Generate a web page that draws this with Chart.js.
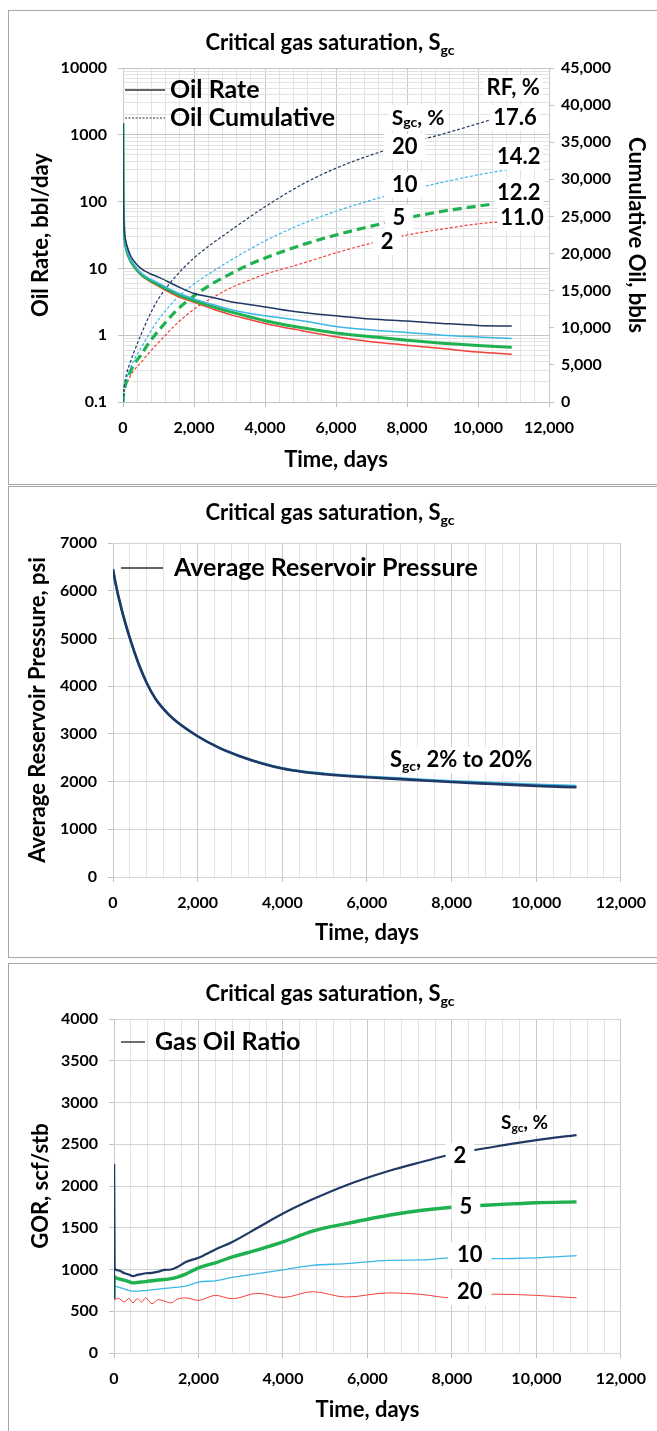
<!DOCTYPE html>
<html>
<head>
<meta charset="utf-8">
<script src="https://cdn.jsdelivr.net/npm/chart.js@4.4.1/dist/chart.umd.min.js"></script>
<style>
  html, body { margin: 0; padding: 0; background: #fff; overflow: hidden; }
  body { width: 657px; height: 1431px; position: relative; }
  .panel { position: absolute; left: 8px; width: 700px; border: 1px solid #a6a6a6; background: #fff; }
  .panel canvas { position: absolute; left: 0; top: 0; }
  .title { position: absolute; left: 0; width: 642px; text-align: center; font: bold 22px Lato, sans-serif; line-height: 26px; color: #000; z-index: 2; }
  .title sub { font-size: 14px; vertical-align: -5px; line-height: 0; }
</style>
</head>
<body>

<div class="panel" style="top:10px;height:473px">
  <div class="title" style="top:18px">Critical gas saturation, S<sub>gc</sub></div>
  <canvas id="rateChart" width="648" height="473"></canvas>
</div>

<div class="panel" style="top:486px;height:470px">
  <div class="title" style="top:12px">Critical gas saturation, S<sub>gc</sub></div>
  <canvas id="pressureChart" width="648" height="470"></canvas>
</div>

<div class="panel" style="top:963px;height:480px">
  <div class="title" style="top:16px">Critical gas saturation, S<sub>gc</sub></div>
  <canvas id="gorChart" width="648" height="467"></canvas>
</div>

<script>
// ---------- data ----------
const dayTicks = [0, 2000, 4000, 6000, 8000, 10000, 12000];
const rateTicks = [0.1, 1, 10, 100, 1000, 10000];

// top chart: oil rate (bbl/day) and cumulative oil (bbl)
const rateDays = [0, 10, 30, 60, 100, 200, 300, 500, 750, 1000, 1500, 2000, 2500, 3000, 3500, 4000, 5000, 6000, 7000, 8000, 9000, 10000, 10950];
const rateSgc20 = [1500, 120, 42, 29, 23, 16, 13, 10, 8.4, 7.4, 5.5, 4.2, 3.7, 3.2, 2.9, 2.65, 2.2, 1.95, 1.75, 1.63, 1.5, 1.4, 1.37];
const rateSgc10 = [1500, 110, 38, 26, 20, 14, 11.5, 8.6, 7.0, 6.0, 4.4, 3.5, 2.9, 2.45, 2.15, 1.95, 1.66, 1.35, 1.2, 1.1, 1.0, 0.94, 0.89];
const rateSgc5 = [1500, 105, 36, 25, 19, 13.5, 11, 8.3, 6.7, 5.7, 4.2, 3.3, 2.7, 2.25, 1.92, 1.65, 1.3, 1.08, 0.95, 0.84, 0.76, 0.7, 0.66];
const rateSgc2 = [1500, 100, 35, 24, 18.5, 13, 10.7, 8.0, 6.4, 5.4, 3.9, 3.1, 2.5, 2.05, 1.75, 1.5, 1.18, 0.95, 0.8, 0.71, 0.63, 0.56, 0.52];

const cumSgc20 = [0, 900, 1900, 2900, 3800, 5300, 6600, 9000, 11700, 13900, 17000, 19400, 21300, 23000, 24700, 26300, 29200, 31500, 33300, 34800, 36100, 37500, 38900];
const cumSgc10 = [0, 800, 1600, 2400, 3100, 4500, 5600, 7200, 9300, 11100, 13900, 15900, 17500, 19000, 20400, 21700, 23900, 25700, 27200, 28500, 29600, 30600, 31400];
const cumSgc5 = [0, 700, 1400, 2100, 2800, 4000, 5000, 6300, 8100, 9600, 12300, 14300, 15900, 17200, 18400, 19400, 21100, 22500, 23700, 24800, 25700, 26400, 27000];
const cumSgc2 = [0, 600, 1200, 1800, 2400, 3400, 4200, 5300, 6700, 8000, 10500, 12500, 14000, 15300, 16300, 17200, 18600, 20100, 21400, 22500, 23300, 24000, 24400];

const rfLabels = ['17.6', '14.2', '12.2', '11.0'];
const sgcCumLabels = ['20', '10', '5', '2'];

// middle chart: average reservoir pressure (psi)
const pressureDays = [0, 50, 200, 400, 600, 800, 1000, 1300, 1600, 2000, 2500, 3000, 3500, 4000, 4500, 5000, 6000, 7000, 8000, 9000, 10000, 10950];
const pressureSgc2 = [6450, 6200, 5620, 5000, 4480, 4060, 3740, 3420, 3190, 2950, 2710, 2530, 2385, 2272, 2200, 2155, 2090, 2040, 1990, 1950, 1910, 1880];
const pressureSgc10 = [6450, 6200, 5620, 5000, 4480, 4060, 3740, 3420, 3190, 2950, 2710, 2530, 2390, 2280, 2210, 2167, 2104, 2056, 2010, 1972, 1936, 1910];

// bottom chart: gas oil ratio (scf/stb)
const gorDays = [0, 3, 15, 100, 250, 350, 450, 550, 650, 750, 900, 1050, 1200, 1350, 1500, 1700, 2000, 2400, 2800, 3400, 4000, 4700, 5500, 6500, 7300, 8000, 9000, 10000, 10950];
const gorSgc2 = [650, 2250, 1010, 990, 955, 940, 920, 935, 945, 955, 960, 975, 995, 1000, 1030, 1090, 1140, 1240, 1330, 1500, 1670, 1840, 2010, 2180, 2290, 2380, 2470, 2550, 2610];
const gorSgc5 = [650, 920, 910, 890, 870, 855, 840, 845, 850, 855, 865, 875, 880, 890, 910, 945, 1020, 1080, 1150, 1235, 1330, 1460, 1550, 1650, 1710, 1745, 1775, 1800, 1810];
const gorSgc10 = [650, 830, 810, 790, 765, 750, 740, 742, 745, 748, 755, 765, 775, 780, 790, 800, 850, 865, 905, 950, 995, 1050, 1070, 1110, 1115, 1140, 1130, 1140, 1165];
const gorSgc20 = [650, 660, 640, 655, 610, 655, 600, 650, 610, 660, 590, 640, 620, 600, 645, 660, 630, 690, 650, 715, 665, 735, 670, 720, 700, 660, 705, 690, 660];
const sgcGorLabels = ['2', '5', '10', '20'];

// ---------- helpers ----------
const NAVY = '#1f3864';
const CYAN = '#3cb6e6';
const GREEN = '#1fb14f';
const RED = '#f2403a';
const FONT = 'Lato, sans-serif';

Chart.defaults.font.family = FONT;
Chart.defaults.color = '#000';
Chart.defaults.animation = false;

const pts = (xs, ys) => xs.map((x, i) => ({ x: x, y: ys[i] }));

const logGridValues = [];
rateTicks.forEach((d, i) => {
  if (i === rateTicks.length - 1) { logGridValues.push(d); return; }
  for (let k = 1; k < 10; k++) logGridValues.push(Number((d * k).toPrecision(6)));
});

const tickFont = { family: FONT, weight: 'bold', size: 16 };
const titleFont = { family: FONT, weight: 'bold', size: 22 };

function line(data, color, width, yAxisID, dash) {
  return {
    data: data,
    borderColor: color,
    borderWidth: width,
    borderDash: dash || [],
    pointRadius: 0,
    fill: false,
    cubicInterpolationMode: 'monotone',
    yAxisID: yAxisID || 'y'
  };
}

function dayAxis(height) {
  return {
    type: 'linear',
    min: 0,
    max: 12000,
    ticks: {
      stepSize: 400,
      autoSkip: false,
      maxRotation: 0,
      padding: 11,
      font: tickFont,
      color: '#000',
      callback: v => dayTicks.includes(v) ? v.toLocaleString('en-US') : ''
    },
    grid: {
      color: c => dayTicks.includes(c.tick.value) ? '#c9c9c9' : '#e3e3e3',
      tickLength: 5,
      tickColor: c => dayTicks.includes(c.tick.value) ? '#bfbfbf' : 'rgba(0,0,0,0)'
    },
    border: { display: false },
    title: { display: true, text: 'Time, days', font: titleFont, color: '#000', padding: 0 },
    afterFit: s => { s.height = height; }
  };
}

function valueAxis(min, max, step, titleText, width) {
  return {
    type: 'linear',
    position: 'left',
    min: min,
    max: max,
    ticks: { stepSize: step, padding: 11, font: tickFont, color: '#000', callback: v => String(v) },
    grid: { color: '#d4d4d4', tickLength: 5, tickColor: '#bfbfbf' },
    border: { display: false },
    title: { display: true, text: titleText, font: titleFont, color: '#000', padding: 0 },
    afterFit: s => { s.width = width; }
  };
}

const sgcParts = size => [
  { text: 'S', size: size },
  { text: 'gc', size: Math.round(size * 0.65), dy: 5 },
  { text: ', %', size: size }
];

function drawRich(ctx, parts, cx, cy, pad) {
  let w = 0;
  parts.forEach(p => {
    ctx.font = 'bold ' + p.size + 'px ' + FONT;
    p.w = ctx.measureText(p.text).width;
    w += p.w;
  });
  if (pad) {
    ctx.fillStyle = '#fff';
    ctx.fillRect(cx - w / 2 - pad, cy - 13, w + 2 * pad, 26);
  }
  let x = cx - w / 2;
  ctx.fillStyle = '#000';
  ctx.textAlign = 'left';
  ctx.textBaseline = 'middle';
  parts.forEach(p => {
    ctx.font = 'bold ' + p.size + 'px ' + FONT;
    ctx.fillText(p.text, x, cy + (p.dy || 0));
    x += p.w;
  });
}

// text notes placed in data units
const notesPlugin = {
  id: 'notes',
  afterDatasetsDraw(chart, args, opts) {
    const ctx = chart.ctx;
    const xs = chart.scales.x;
    const ys = chart.scales[opts.axis];
    ctx.save();
    opts.items.forEach(n => {
      drawRich(ctx, n.parts, xs.getPixelForValue(n.x), ys.getPixelForValue(n.y), n.pad);
    });
    ctx.restore();
  }
};

// legend drawn inside the plot, top-left
const innerLegend = {
  id: 'innerLegend',
  afterDatasetsDraw(chart, args, opts) {
    const ctx = chart.ctx;
    const ca = chart.chartArea;
    ctx.save();
    opts.items.forEach(it => {
      const y = ca.top + it.dy;
      ctx.strokeStyle = '#303030';
      ctx.lineWidth = it.dash ? 1.2 : 1.4;
      ctx.setLineDash(it.dash || []);
      ctx.beginPath();
      ctx.moveTo(ca.left + opts.x0, y);
      ctx.lineTo(ca.left + opts.x1, y);
      ctx.stroke();
      ctx.setLineDash([]);
      ctx.fillStyle = '#000';
      ctx.font = 'bold 25px ' + FONT;
      ctx.textAlign = 'left';
      ctx.textBaseline = 'middle';
      ctx.fillText(it.text, ca.left + opts.tx, y);
    });
    ctx.restore();
  }
};

// ---------- top chart ----------
new Chart(document.getElementById('rateChart'), {
  type: 'line',
  data: {
    datasets: [
      line(pts(rateDays, rateSgc20), NAVY, 1.5),
      line(pts(rateDays, rateSgc10), CYAN, 1.5),
      line(pts(rateDays, rateSgc5), GREEN, 3),
      line(pts(rateDays, rateSgc2), RED, 1.5),
      line(pts(rateDays, cumSgc20), NAVY, 1.2, 'y1', [3, 2]),
      line(pts(rateDays, cumSgc10), CYAN, 1.2, 'y1', [3, 2]),
      line(pts(rateDays, cumSgc5), GREEN, 3.2, 'y1', [9, 5]),
      line(pts(rateDays, cumSgc2), RED, 1.2, 'y1', [3, 2])
    ]
  },
  options: {
    responsive: false,
    layout: { padding: { top: 57, left: 19, right: 8, bottom: 11 } },
    plugins: {
      legend: { display: false },
      tooltip: { enabled: false },
      innerLegend: {
        x0: 2, x1: 42, tx: 47,
        items: [
          { text: 'Oil Rate', dy: 22 },
          { text: 'Oil Cumulative', dy: 50, dash: [2, 1.5] }
        ]
      },
      notes: {
        axis: 'y1',
        items: [
          { x: 10990, y: 42300, parts: [{ text: 'RF, %', size: 22 }], pad: 3 },
          { x: 8310, y: 38270, parts: sgcParts(21), pad: 3 },
          { x: 11040, y: 38270, parts: [{ text: rfLabels[0], size: 22 }], pad: 3 },
          { x: 7940, y: 34370, parts: [{ text: sgcCumLabels[0], size: 22 }], pad: 8 },
          { x: 11150, y: 33020, parts: [{ text: rfLabels[1], size: 22 }], pad: 3 },
          { x: 7940, y: 29250, parts: [{ text: sgcCumLabels[1], size: 22 }], pad: 8 },
          { x: 11150, y: 28170, parts: [{ text: rfLabels[2], size: 22 }], pad: 3 },
          { x: 7770, y: 24800, parts: [{ text: sgcCumLabels[2], size: 22 }], pad: 8 },
          { x: 11240, y: 24800, parts: [{ text: rfLabels[3], size: 22 }], pad: 3 },
          { x: 7440, y: 21560, parts: [{ text: sgcCumLabels[3], size: 22 }], pad: 8 }
        ]
      }
    },
    scales: {
      x: dayAxis(71),
      y: {
        type: 'logarithmic',
        position: 'left',
        min: 0.1,
        max: 10000,
        afterBuildTicks: s => { s.ticks = logGridValues.map(v => ({ value: v })); },
        ticks: {
          autoSkip: false,
          padding: 11,
          font: tickFont,
          color: '#000',
          callback: v => rateTicks.includes(v) ? String(v) : ''
        },
        grid: {
          color: c => rateTicks.includes(c.tick.value) ? '#c4c4c4' : '#e3e3e3',
          tickLength: 5,
          tickColor: c => rateTicks.includes(c.tick.value) ? '#bfbfbf' : 'rgba(0,0,0,0)'
        },
        border: { display: false },
        title: { display: true, text: 'Oil Rate, bbl/day', font: titleFont, color: '#000', padding: 0 },
        afterFit: s => { s.width = 95; }
      },
      y1: {
        type: 'linear',
        position: 'right',
        min: 0,
        max: 45000,
        ticks: {
          stepSize: 5000,
          padding: 7,
          font: tickFont,
          color: '#000',
          callback: v => v.toLocaleString('en-US')
        },
        grid: { drawOnChartArea: false, tickLength: 5, tickColor: '#bfbfbf' },
        border: { display: false },
        title: { display: true, text: 'Cumulative Oil, bbls', font: titleFont, color: '#000', padding: 0 },
        afterFit: s => { s.width = 100; }
      }
    }
  },
  plugins: [notesPlugin, innerLegend]
});

// ---------- middle chart ----------
new Chart(document.getElementById('pressureChart'), {
  type: 'line',
  data: {
    datasets: [
      line(pts(pressureDays, pressureSgc2), NAVY, 2.6),
      line(pts(pressureDays, pressureSgc10), CYAN, 2.4)
    ]
  },
  options: {
    responsive: false,
    layout: { padding: { top: 56, left: 16, right: 29, bottom: 11 } },
    plugins: {
      legend: { display: false },
      tooltip: { enabled: false },
      innerLegend: {
        x0: 8, x1: 50, tx: 61,
        items: [{ text: 'Average Reservoir Pressure', dy: 25 }]
      },
      notes: {
        axis: 'y',
        items: [
          { x: 8225, y: 2450, parts: [
            { text: 'S', size: 22 },
            { text: 'gc', size: 14, dy: 6 },
            { text: ', 2% to 20%', size: 22 }
          ], pad: 3 }
        ]
      }
    },
    scales: {
      x: dayAxis(69),
      y: valueAxis(0, 7000, 1000, 'Average Reservoir Pressure, psi', 88)
    }
  },
  plugins: [notesPlugin, innerLegend]
});

// ---------- bottom chart ----------
new Chart(document.getElementById('gorChart'), {
  type: 'line',
  data: {
    datasets: [
      line(pts(gorDays, gorSgc2), NAVY, 2.2),
      line(pts(gorDays, gorSgc5), GREEN, 3.4),
      line(pts(gorDays, gorSgc10), CYAN, 1.3),
      line(pts(gorDays, gorSgc20), RED, 1)
    ]
  },
  options: {
    responsive: false,
    layout: { padding: { top: 55, left: 19, right: 27, bottom: 8 } },
    plugins: {
      legend: { display: false },
      tooltip: { enabled: false },
      innerLegend: {
        x0: 7, x1: 31, tx: 41,
        items: [{ text: 'Gas Oil Ratio', dy: 23 }]
      },
      notes: {
        axis: 'y',
        items: [
          { x: 9720, y: 2755, parts: sgcParts(19), pad: 3 },
          { x: 8190, y: 2360, parts: [{ text: sgcGorLabels[0], size: 22 }], pad: 8 },
          { x: 8330, y: 1750, parts: [{ text: sgcGorLabels[1], size: 22 }], pad: 8 },
          { x: 8420, y: 1175, parts: [{ text: sgcGorLabels[2], size: 22 }], pad: 9 },
          { x: 8420, y: 730, parts: [{ text: sgcGorLabels[3], size: 22 }], pad: 9 }
        ]
      }
    },
    scales: {
      x: dayAxis(70),
      y: valueAxis(0, 4000, 500, 'GOR, scf/stb', 86)
    }
  },
  plugins: [notesPlugin, innerLegend]
});
</script>
</body>
</html>
